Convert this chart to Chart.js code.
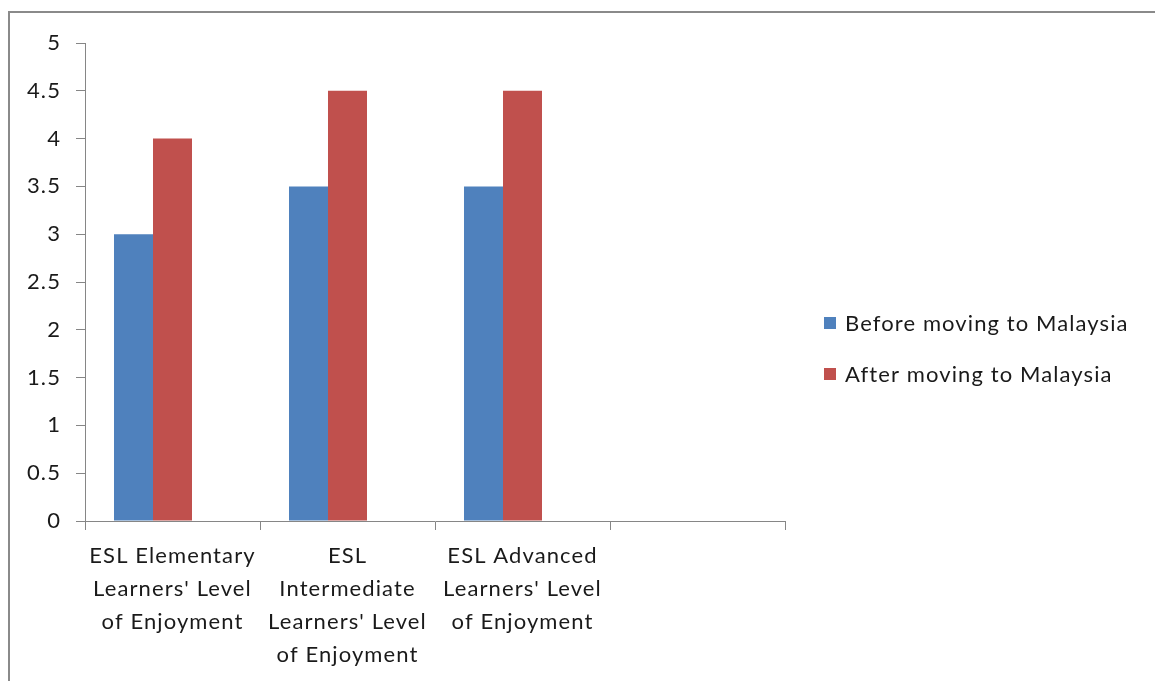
<!DOCTYPE html>
<html>
<head>
<meta charset="utf-8">
<title>Level of Enjoyment</title>
<script src="https://cdn.jsdelivr.net/npm/chart.js@4/dist/chart.umd.min.js"></script>
<style>
  html, body { margin: 0; padding: 0; background: #ffffff; }
  #wrap { position: relative; width: 1155px; height: 681px; overflow: hidden; }
  #frame {
    position: absolute; left: 8px; top: 11px; right: -10px; bottom: -10px;
    border-left: 2px solid #8a8a8a; border-top: 2px solid #8a8a8a;
  }
  canvas { position: absolute; left: 0; top: 0; }
</style>
</head>
<body>
<div id="wrap">
  <div id="frame"></div>
  <canvas id="chart" width="1155" height="681"></canvas>
</div>
<script>
// Category labels, one line per array entry
const categories = [
  ["ESL Elementary", "Learners' Level", "of Enjoyment"],
  ["ESL", "Intermediate", "Learners' Level", "of Enjoyment"],
  ["ESL Advanced", "Learners' Level", "of Enjoyment"],
  ""
];
const seriesNames = ["Before moving to Malaysia", "After moving to Malaysia"];
const beforeValues = [3, 3.5, 3.5, null];
const afterValues = [4, 4.5, 4.5, null];
// third series slot of the workbook holds no values
const unusedValues = [null, null, null, null];
const yTicks = [0, 0.5, 1, 1.5, 2, 2.5, 3, 3.5, 4, 4.5, 5];

const FONT = "Lato, 'Open Sans', sans-serif";
const FONT_SIZE = 22;
const SPACING = "1.1px";
const TEXT = "#1a1a1a";
const AXIS = "#868686";
const colors = ["#4F81BD", "#C0504D"];

// Wider letter spacing for all chart text
const textSpacing = {
  id: "textSpacing",
  beforeLayout(chart) { chart.ctx.letterSpacing = SPACING; },
  beforeDraw(chart) { chart.ctx.letterSpacing = SPACING; }
};

// Legend drawn to the right of the plot, in Excel style
const sideLegend = {
  id: "sideLegend",
  afterDraw(chart) {
    const ctx = chart.ctx;
    ctx.save();
    ctx.letterSpacing = SPACING;
    ctx.font = FONT_SIZE + "px " + FONT;
    ctx.textBaseline = "middle";
    ctx.textAlign = "left";
    chart.data.datasets.filter(ds => ds.label).forEach((ds, i) => {
      const y = 323 + i * 51;
      ctx.fillStyle = ds.backgroundColor;
      ctx.fillRect(824, y - 6, 12, 12);
      ctx.fillStyle = TEXT;
      ctx.fillText(ds.label, 845, y + 1);
    });
    ctx.restore();
  }
};

new Chart(document.getElementById("chart"), {
  type: "bar",
  data: {
    labels: categories,
    datasets: [
      { label: seriesNames[0], data: beforeValues, backgroundColor: colors[0] },
      { label: seriesNames[1], data: afterValues, backgroundColor: colors[1] },
      { label: "", data: unusedValues, backgroundColor: "transparent" }
    ]
  },
  options: {
    responsive: false,
    animation: false,
    events: [],
    layout: { padding: { top: 43, right: 370, bottom: 0, left: 0 } },
    datasets: { bar: { categoryPercentage: 0.6686, barPercentage: 1 } },
    plugins: { legend: { display: false }, tooltip: { enabled: false } },
    scales: {
      x: {
        grid: { drawOnChartArea: false, drawTicks: true, tickLength: 9, color: AXIS, offset: true },
        border: { color: AXIS, width: 1 },
        ticks: {
          color: TEXT, font: { family: FONT, size: FONT_SIZE, lineHeight: "33px" },
          maxRotation: 0, minRotation: 0, autoSkip: false, padding: 9
        },
        afterFit(scale) { scale.height = 160; }
      },
      y: {
        min: 0, max: 5,
        afterBuildTicks(scale) { scale.ticks = yTicks.map(v => ({ value: v })); },
        grid: { drawOnChartArea: false, drawTicks: true, tickLength: 9, color: AXIS },
        border: { color: AXIS, width: 1 },
        ticks: {
          color: TEXT, font: { family: FONT, size: FONT_SIZE }, padding: 15,
          callback: v => String(v)
        },
        afterFit(scale) { scale.width = 85; }
      }
    }
  },
  plugins: [textSpacing, sideLegend]
});
</script>
</body>
</html>
